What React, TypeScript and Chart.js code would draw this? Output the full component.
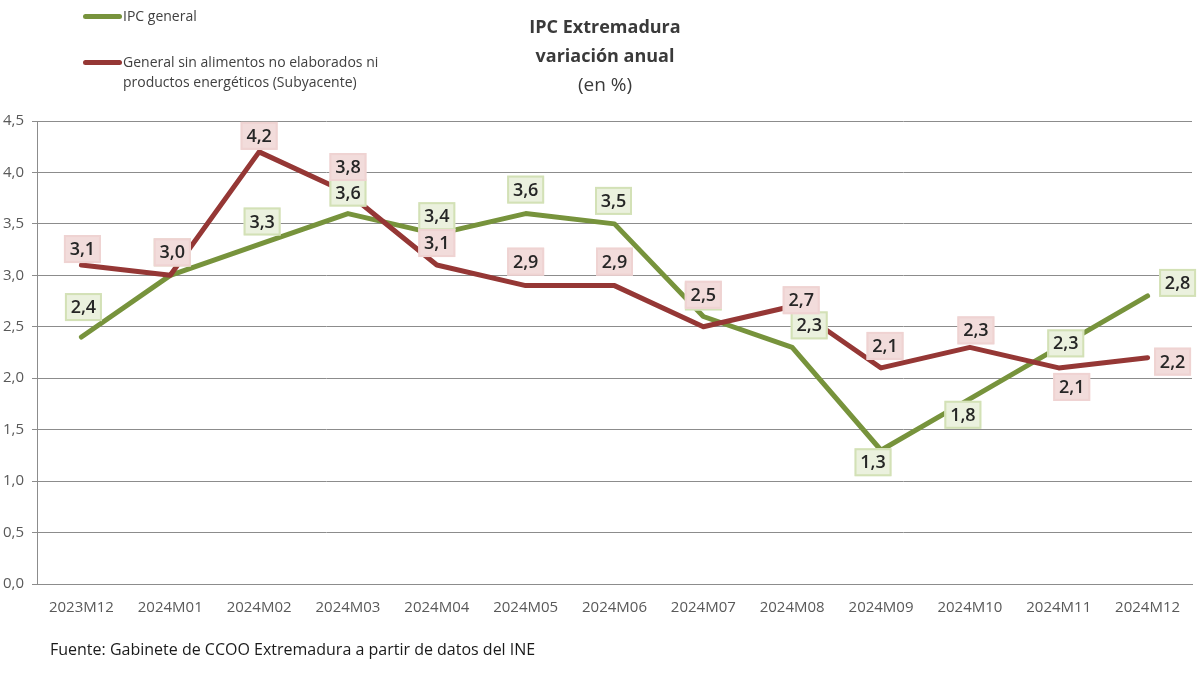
import { useEffect, useRef } from 'react';
import { Chart, registerables } from 'chart.js';

Chart.register(...registerables);

const categories = ['2023M12', '2024M01', '2024M02', '2024M03', '2024M04', '2024M05', '2024M06', '2024M07', '2024M08', '2024M09', '2024M10', '2024M11', '2024M12'];
const ipcGeneral = [2.4, 3.0, 3.3, 3.6, 3.4, 3.6, 3.5, 2.6, 2.3, 1.3, 1.8, 2.3, 2.8];
const subyacente = [3.1, 3.0, 4.2, 3.8, 3.1, 2.9, 2.9, 2.5, 2.7, 2.1, 2.3, 2.1, 2.2];
const yMin = 0;
const yMax = 4.5;
const yStep = 0.5;

// label placement offsets (px) relative to each point
const generalLabelOffsets = [[2, -30], [2, -23], [3, -23], [0, -21], [0, -18], [0, -24], [-1, -23], [0, -20], [17, -22], [-8, 12], [-7, 16], [7, -4], [30, -13]];
const subyacenteLabelOffsets = [[1, -16], [2, -23], [0, -16], [0, -26], [0, -22], [0, -24], [0, -24], [0, -32], [9, -6], [4, -22], [6, -17], [13, 19], [25, 4]];

const GREEN = '#77933c';
const RED = '#953735';
const FONT = "'Open Sans', sans-serif";

const fmt = (v: number) => v.toFixed(1).replace('.', ',');

const labelPlugin = {
  id: 'boxLabels',
  afterDatasetsDraw(chart: any) {
    const ctx = chart.ctx;
    const specs = [
      { idx: 0, offsets: generalLabelOffsets, fill: '#ebf1de', stroke: '#d3e1b6' },
      { idx: 1, offsets: subyacenteLabelOffsets, fill: '#f2dcdb', stroke: '#efd3d2' },
    ];
    ctx.save();
    ctx.font = `600 18px ${FONT}`;
    ctx.textAlign = 'center';
    ctx.textBaseline = 'middle';
    for (const s of specs) {
      const meta = chart.getDatasetMeta(s.idx);
      const data = chart.data.datasets[s.idx].data as number[];
      meta.data.forEach((pt: any, i: number) => {
        const [dx, dy] = s.offsets[i];
        const cx = pt.x + dx;
        const cy = pt.y + dy;
        const w = 37;
        const h = 28;
        ctx.fillStyle = s.fill;
        ctx.fillRect(cx - w / 2, cy - h / 2, w, h);
        ctx.strokeStyle = s.stroke;
        ctx.lineWidth = 2;
        ctx.strokeRect(cx - w / 2 + 1, cy - h / 2 + 1, w - 2, h - 2);
        ctx.fillStyle = '#262626';
        ctx.fillText(fmt(data[i]), cx, cy + 1);
      });
    }
    ctx.restore();
  },
};

export default function App() {
  const ref = useRef<HTMLCanvasElement | null>(null);

  useEffect(() => {
    if (!ref.current) return;
    const chart = new Chart(ref.current, {
      type: 'line',
      data: {
        labels: categories,
        datasets: [
          {
            label: 'IPC general',
            data: ipcGeneral,
            borderColor: GREEN,
            backgroundColor: GREEN,
            borderWidth: 5,
            pointRadius: 0,
            tension: 0,
            borderJoinStyle: 'round',
            borderCapStyle: 'round',
            order: 2,
          },
          {
            label: 'General sin alimentos no elaborados ni productos energéticos (Subyacente)',
            data: subyacente,
            borderColor: RED,
            backgroundColor: RED,
            borderWidth: 5,
            pointRadius: 0,
            tension: 0,
            borderJoinStyle: 'round',
            borderCapStyle: 'round',
            order: 1,
          },
        ],
      },
      options: {
        responsive: false,
        animation: false,
        devicePixelRatio: 1,
        layout: { padding: { top: 121, left: 0, right: 8, bottom: 0 } },
        plugins: {
          legend: { display: false },
          title: { display: false },
          tooltip: { enabled: false },
        },
        scales: {
          x: {
            offset: true,
            grid: { display: false, drawTicks: false },
            border: { display: true, color: '#8c8c8c', width: 1 },
            ticks: { color: '#595959', font: { family: FONT, size: 15 }, padding: 15, maxRotation: 0, autoSkip: false },
            afterFit: (s: any) => { s.height = 91; },
          },
          y: {
            min: yMin,
            max: yMax,
            grid: { color: '#8c8c8c', lineWidth: 1, tickLength: 5, drawTicks: true },
            border: { display: true, color: '#8c8c8c', width: 1 },
            ticks: {
              stepSize: yStep,
              color: '#595959',
              font: { family: FONT, size: 15 },
              padding: 8,
              callback: (v: any) => fmt(Number(v)),
            },
            afterFit: (s: any) => { s.width = 37; },
          },
        },
      },
      plugins: [labelPlugin],
    });
    return () => chart.destroy();
  }, []);

  return (
    <div style={{ position: 'absolute', left: 0, top: 0, width: 1200, height: 675, background: '#fff', fontFamily: FONT, overflow: 'hidden' }}>
      <canvas ref={ref} width={1200} height={675} style={{ position: 'absolute', left: 0, top: 0 }} />
      <div style={{ position: 'absolute', left: 405, top: 12, width: 400, textAlign: 'center', color: '#3a3a3a', fontSize: 18, lineHeight: '29px' }}>
        <div style={{ fontWeight: 700 }}>IPC Extremadura</div>
        <div style={{ fontWeight: 700 }}>variación anual</div>
        <div style={{ fontSize: 19 }}>(en %)</div>
      </div>
      <div style={{ position: 'absolute', left: 83, top: 14, width: 39, height: 5, borderRadius: 3, background: GREEN }} />
      <div style={{ position: 'absolute', left: 123, top: 6, fontSize: 14, lineHeight: '20px', color: '#404040' }}>IPC general</div>
      <div style={{ position: 'absolute', left: 83, top: 60, width: 39, height: 5, borderRadius: 3, background: RED }} />
      <div style={{ position: 'absolute', left: 123, top: 52, fontSize: 14, lineHeight: '20px', color: '#404040' }}>
        General sin alimentos no elaborados ni<br />productos energéticos (Subyacente)
      </div>
      <div style={{ position: 'absolute', left: 50, top: 639, fontSize: 16, lineHeight: '20px', color: '#1a1a1a' }}>
        Fuente: Gabinete de CCOO Extremadura a partir de datos del INE
      </div>
    </div>
  );
}
